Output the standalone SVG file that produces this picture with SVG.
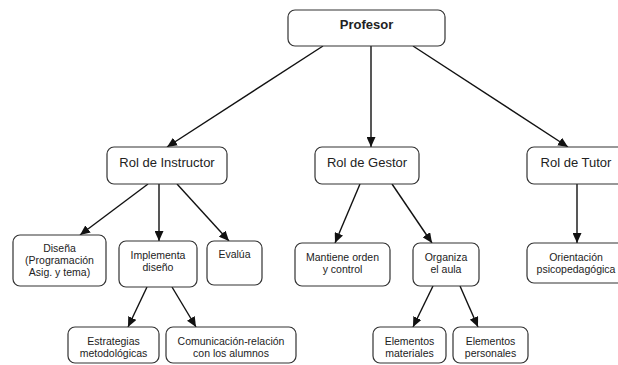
<svg xmlns="http://www.w3.org/2000/svg" width="618" height="365" viewBox="0 0 618 365">
<style>
.box{fill:#fff;stroke:#333;stroke-width:1.2}
.t{font-family:"Liberation Sans",Arial,sans-serif;fill:#222;text-anchor:middle}
.big{font-size:13px}
.sm{font-size:10.5px}
.b{font-weight:bold}
.c{stroke:#111;stroke-width:1.4;fill:none;marker-end:url(#ah)}
</style>
<defs>
<marker id="ah" markerUnits="userSpaceOnUse" markerWidth="11" markerHeight="9" refX="10" refY="4.5" orient="auto">
<path d="M0,0 L10,4.5 L0,9 z" fill="#111"/>
</marker>
</defs>
<rect width="618" height="365" fill="#fff"/>
<g id="connectors">
<line class="c" x1="323" y1="46" x2="167" y2="147"/>
<line class="c" x1="371" y1="46" x2="371" y2="147"/>
<line class="c" x1="413" y1="46" x2="568" y2="147"/>
<line class="c" x1="148" y1="184" x2="80" y2="235"/>
<line class="c" x1="159" y1="184" x2="159" y2="241"/>
<line class="c" x1="177" y1="184" x2="229" y2="241"/>
<line class="c" x1="147" y1="287" x2="128" y2="327"/>
<line class="c" x1="172" y1="287" x2="196" y2="327"/>
<line class="c" x1="360" y1="184" x2="335" y2="243"/>
<line class="c" x1="392" y1="184" x2="432" y2="243"/>
<line class="c" x1="577" y1="184" x2="577" y2="243"/>
<line class="c" x1="433" y1="286" x2="413" y2="327"/>
<line class="c" x1="460" y1="286" x2="478" y2="327"/>
</g>
<g id="profesor"><rect class="box" x="288" y="10" width="157" height="36" rx="7"/><text class="t big b" x="366.5" y="29">Profesor</text></g>
<g id="instructor"><rect class="box" x="107" y="147" width="120" height="37" rx="7"/><text class="t big" x="167" y="167">Rol de Instructor</text></g>
<g id="gestor"><rect class="box" x="315" y="147" width="104" height="37" rx="7"/><text class="t big" x="367" y="167">Rol de Gestor</text></g>
<g id="tutor"><rect class="box" x="527" y="147" width="98" height="37" rx="7"/><text class="t big" x="576" y="167">Rol de Tutor</text></g>
<g id="disena"><rect class="box" x="13" y="235" width="93" height="51" rx="7"/><text class="t sm" x="59.5" y="252">Diseña</text><text class="t sm" x="59.5" y="264">(Programación</text><text class="t sm" x="59.5" y="276">Asig. y tema)</text></g>
<g id="implementa"><rect class="box" x="119" y="241" width="78" height="46" rx="7"/><text class="t sm" x="158" y="259">Implementa</text><text class="t sm" x="158" y="271">diseño</text></g>
<g id="evalua"><rect class="box" x="207" y="241" width="55" height="44" rx="7"/><text class="t sm" x="234.5" y="258">Evalúa</text></g>
<g id="mantiene"><rect class="box" x="295" y="243" width="95" height="43" rx="7"/><text class="t sm" x="342.5" y="261">Mantiene orden</text><text class="t sm" x="342.5" y="273">y control</text></g>
<g id="organiza"><rect class="box" x="413" y="243" width="66" height="43" rx="7"/><text class="t sm" x="446" y="261">Organiza</text><text class="t sm" x="446" y="273">el aula</text></g>
<g id="orientacion"><rect class="box" x="527" y="243" width="98" height="40" rx="7"/><text class="t sm" x="576" y="261">Orientación</text><text class="t sm" x="576" y="273">psicopedagógica</text></g>
<g id="estrategias"><rect class="box" x="68" y="327" width="91" height="36" rx="7"/><text class="t sm" x="113.5" y="345">Estrategias</text><text class="t sm" x="113.5" y="357">metodológicas</text></g>
<g id="comunicacion"><rect class="box" x="166" y="327" width="130" height="36" rx="7"/><text class="t sm" x="231" y="345">Comunicación-relación</text><text class="t sm" x="231" y="357">con los alumnos</text></g>
<g id="materiales"><rect class="box" x="373" y="327" width="73" height="36" rx="7"/><text class="t sm" x="409.5" y="345">Elementos</text><text class="t sm" x="409.5" y="357">materiales</text></g>
<g id="personales"><rect class="box" x="453" y="327" width="75" height="36" rx="7"/><text class="t sm" x="490.5" y="345">Elementos</text><text class="t sm" x="490.5" y="357">personales</text></g>
</svg>
